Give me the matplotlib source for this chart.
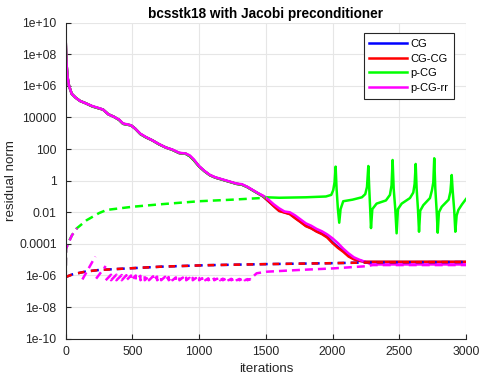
import numpy as np
import matplotlib.pyplot as plt

plt.rcParams['font.family'] = ['Liberation Sans', 'DejaVu Sans']

# residual norms, log10 values
main_x = [0, 3, 8, 15, 25, 45, 75, 107, 150, 200, 240, 280, 320, 360, 400, 430, 460,
          490, 520, 560, 600, 650, 700, 750, 800, 850, 900, 930, 960, 1000, 1040, 1080,
          1120, 1160, 1200, 1240, 1280, 1320, 1360, 1400, 1440, 1480, 1520, 1560, 1600,
          1640, 1680, 1720, 1760, 1800, 1840, 1880, 1920, 1960, 2000, 2040, 2080, 2120,
          2160, 2200, 2250, 2300, 3000]
cg_y = [8.85, 8.0, 7.2, 6.5, 6.0, 5.5, 5.25, 5.05, 4.9, 4.7, 4.6, 4.5, 4.2, 4.05, 3.85,
        3.6, 3.55, 3.5, 3.3, 2.95, 2.75, 2.55, 2.3, 2.1, 1.95, 1.75, 1.7, 1.55, 1.3, 0.9,
        0.6, 0.35, 0.2, 0.1, 0.0, -0.1, -0.2, -0.25, -0.4, -0.6, -0.8, -1.0, -1.3, -1.6,
        -1.9, -2.0, -2.1, -2.35, -2.6, -2.85, -3.0, -3.2, -3.35, -3.55, -3.9, -4.2, -4.45,
        -4.75, -4.95, -5.05, -5.15, -5.15, -5.15]
cgcg_y = [8.85, 8.0, 7.2, 6.5, 6.0, 5.5, 5.25, 5.05, 4.9, 4.7, 4.6, 4.5, 4.2, 4.05, 3.85,
          3.6, 3.55, 3.5, 3.3, 2.95, 2.75, 2.55, 2.3, 2.1, 1.95, 1.75, 1.7, 1.55, 1.3, 0.9,
          0.6, 0.35, 0.2, 0.1, 0.0, -0.1, -0.2, -0.25, -0.4, -0.6, -0.8, -1.0, -1.3, -1.62,
          -1.92, -2.02, -2.12, -2.38, -2.62, -2.88, -3.02, -3.22, -3.38, -3.6, -3.95, -4.25,
          -4.5, -4.8, -4.98, -5.08, -5.13, -5.13, -5.13]
rr_x = [0, 3, 8, 15, 25, 45, 75, 107, 150, 200, 240, 280, 320, 360, 400, 430, 460,
        490, 520, 560, 600, 650, 700, 750, 800, 850, 900, 930, 960, 1000, 1040, 1080,
        1120, 1160, 1200, 1240, 1280, 1320, 1360, 1400, 1440, 1480, 1520, 1560, 1600,
        1640, 1680, 1720, 1760, 1800, 1840, 1880, 1920, 1960, 2000, 2040, 2080, 2120,
        2160, 2200, 2250, 2290, 3000]
rr_y = [8.85, 8.0, 7.2, 6.5, 6.0, 5.5, 5.25, 5.05, 4.9, 4.72, 4.62, 4.5, 4.2, 4.05, 3.87,
        3.62, 3.57, 3.5, 3.3, 2.97, 2.77, 2.55, 2.32, 2.1, 1.97, 1.77, 1.72, 1.6, 1.35, 0.92,
        0.62, 0.37, 0.22, 0.12, 0.02, -0.08, -0.18, -0.22, -0.38, -0.58, -0.78, -0.95, -1.2,
        -1.5, -1.75, -1.95, -2.0, -2.2, -2.45, -2.7, -2.85, -3.05, -3.2, -3.4, -3.65, -3.95,
        -4.3, -4.6, -4.85, -5.0, -5.15, -5.3, -5.3]
pcg_x = [0, 3, 8, 15, 25, 45, 75, 107, 150, 200, 240, 280, 320, 360, 400, 430, 460,
         490, 520, 560, 600, 650, 700, 750, 800, 850, 900, 930, 960, 1000, 1040, 1080,
         1120, 1160, 1200, 1240, 1280, 1320, 1360, 1400, 1440, 1480, 1500, 1600, 1800,
         1950, 1990, 2005, 2015, 2023, 2030, 2040, 2050, 2060, 2080, 2150, 2220, 2245,
         2258, 2268, 2275, 2282, 2288, 2298, 2330, 2400, 2430, 2442, 2450, 2458, 2470,
         2480, 2490, 2518, 2580, 2605, 2615, 2623, 2630, 2640, 2648, 2657, 2680, 2730,
         2745, 2755, 2762, 2770, 2780, 2788, 2797, 2818, 2870, 2883, 2888, 2893, 2900,
         2912, 2920, 2930, 2943, 2970, 3000]
pcg_y = [8.85, 8.0, 7.2, 6.5, 6.0, 5.5, 5.25, 5.05, 4.9, 4.7, 4.6, 4.5, 4.2, 4.05, 3.85,
         3.6, 3.55, 3.5, 3.3, 2.95, 2.75, 2.55, 2.3, 2.1, 1.95, 1.75, 1.7, 1.55, 1.3, 0.9,
         0.6, 0.35, 0.2, 0.1, 0.0, -0.1, -0.2, -0.25, -0.4, -0.6, -0.8, -0.98, -1.05,
         -1.08, -1.05, -1.0, -0.9, -0.6, -0.1, 0.89, -0.5, -1.8, -2.66, -1.8, -1.3, -1.2,
         -1.05, -0.85, -0.4, 0.93, -0.5, -1.8, -3.0, -1.8, -1.45, -1.25, -0.9, -0.3, 1.31,
         -0.5, -1.8, -3.33, -1.8, -1.45, -1.1, -0.75, -0.2, 1.06, -0.5, -1.8, -3.23, -1.9,
         -1.55, -1.1, -0.6, -0.1, 1.42, -0.5, -1.9, -3.29, -2.0, -1.65, -1.2, -0.7, -0.2,
         0.36, -0.6, -1.9, -3.23, -2.2, -1.85, -1.5, -1.16]

# gaps (dashed)
gap_x = [0, 50, 150, 250, 470, 720, 1050, 1500, 2000, 2300, 3000]
gap_cg_y = [-6.1, -5.93, -5.75, -5.65, -5.55, -5.44, -5.35, -5.28, -5.22, -5.17, -5.15]
gap_pcg_x = [0, 3, 20, 47, 85, 157, 250, 307, 500, 700, 1000, 1250, 1500]
gap_pcg_y = [-6.2, -4.3, -3.9, -3.45, -3.0, -2.5, -2.05, -1.85, -1.65, -1.5, -1.3, -1.2, -1.08]

# p-CG-rr gap: first teeth, then small teeth (reset positions / peaks), then smooth
rr_gap_head_x = [0, 3, 47, 85, np.nan, 125, 222, np.nan, 228, 300]
rr_gap_head_y = [-6.2, -4.3, -3.45, -3.0, np.nan, -6.25, -4.8, np.nan, -6.2, -5.4]
rr_resets = [300, 340, 380, 420, 455, 490, 525, 560, 592, 624, 655, 685, 715, 745, 772,
             800, 826, 852, 878, 903, 928, 952, 976, 1000, 1023, 1046, 1069, 1091, 1113,
             1135, 1157, 1178, 1199, 1220, 1241, 1262, 1282, 1302, 1322, 1342, 1362, 1382]
rr_peaks = [-5.95, -5.95, -5.97, -5.98, -6.0, -6.0, -6.02, -6.03, -6.05, -6.05, -6.07,
            -6.08, -6.08, -6.1, -6.1, -6.12, -6.12, -6.13, -6.14, -6.15, -6.15, -6.16,
            -6.16, -6.17, -6.18, -6.18, -6.19, -6.2, -6.2, -6.2, -6.2, -6.21, -6.21, -6.21,
            -6.22, -6.22, -6.22, -6.22, -6.23, -6.23, -6.23]
rr_low = -6.3
rr_tail_x = [1382, 1431, 1506, 1750, 2005, 2256, 2300, 3000]
rr_tail_y = [-6.24, -5.86, -5.76, -5.65, -5.55, -5.41, -5.34, -5.34]

saw_x, saw_y = list(rr_gap_head_x) + [np.nan], list(rr_gap_head_y) + [np.nan]
for i in range(len(rr_peaks)):
    saw_x += [rr_resets[i], rr_resets[i + 1]]
    saw_y += [rr_low, rr_peaks[i]]
saw_x += rr_tail_x
saw_y += rr_tail_y

fig = plt.figure(figsize=(4.81, 3.75), dpi=100)
ax = fig.add_axes([0.1366, 0.0968, 0.8322, 0.8427])

lw = 1.8
dash = (3.2, 2.0)
ax.plot(main_x, 10 ** np.array(cg_y), color=(0, 0, 1), lw=lw, label='CG')
ax.plot(main_x, 10 ** np.array(cgcg_y), color=(1, 0, 0), lw=lw, label='CG-CG')
ax.plot(pcg_x, 10 ** np.array(pcg_y), color=(0, 1, 0), lw=lw, label='p-CG')
ax.plot(rr_x, 10 ** np.array(rr_y), color=(1, 0, 1), lw=lw, label='p-CG-rr')
ax.plot(gap_x, 10 ** np.array(gap_cg_y), color=(0, 0, 1), lw=lw, dashes=dash)
ax.plot(gap_x, 10 ** np.array(gap_cg_y), color=(1, 0, 0), lw=lw, dashes=(2.6, 2.6))
ax.plot(gap_pcg_x, 10 ** np.array(gap_pcg_y), color=(0, 1, 0), lw=lw, dashes=dash)
ax.plot(saw_x, 10 ** np.array(saw_y, dtype=float), color=(1, 0, 1), lw=lw, dashes=dash)

ax.set_yscale('log')
ax.set_xlim(0, 3000)
ax.set_ylim(1e-10, 1e10)
yt = [1e-10, 1e-8, 1e-6, 1e-4, 1e-2, 1, 1e2, 1e4, 1e6, 1e8, 1e10]
ytl = ['1e-10', '1e-08', '1e-06', '0.0001', '0.01', '1', '100', '10000', '1e+06', '1e+08', '1e+10']
ax.set_yticks(yt)
ax.set_yticklabels(ytl)
ax.minorticks_off()
ax.set_xticks([0, 500, 1000, 1500, 2000, 2500, 3000])
ax.tick_params(direction='in', length=3.5, width=0.8, labelsize=8.7, colors=(0.15, 0.15, 0.15))
ax.tick_params(axis='y', pad=6.5)
ax.tick_params(axis='x', pad=5.5)
ax.grid(True, color=(0.9, 0.9, 0.9), lw=0.8)
ax.set_axisbelow(True)
for s in ['top', 'right']:
    ax.spines[s].set_visible(False)
for s in ['left', 'bottom']:
    ax.spines[s].set_color((0.15, 0.15, 0.15))
    ax.spines[s].set_linewidth(0.8)

ax.set_xlabel('iterations', fontsize=9.6, color=(0.15, 0.15, 0.15), labelpad=3)
ax.set_ylabel('residual norm', fontsize=9.6, color=(0.15, 0.15, 0.15), labelpad=1.5)
ax.set_title('bcsstk18 with Jacobi preconditioner', fontsize=9.8, fontweight='bold', pad=3.5)

leg = ax.legend(loc='upper right', bbox_to_anchor=(0.970, 0.966), borderaxespad=0,
                fontsize=8, handlelength=3.4, handletextpad=0.3, labelspacing=0.42,
                borderpad=0.5, fancybox=False, framealpha=1, edgecolor=(0.15, 0.15, 0.15))
leg.get_frame().set_linewidth(0.8)

plt.savefig('out.png', dpi=100)
